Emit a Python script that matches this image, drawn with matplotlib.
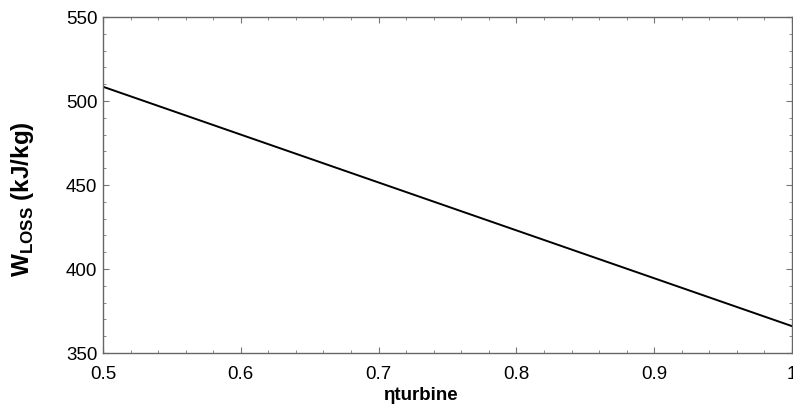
import matplotlib
matplotlib.use("Agg")
import matplotlib.pyplot as plt
from matplotlib.ticker import MultipleLocator, FixedLocator

plt.rcParams['font.family'] = ['Liberation Sans', 'DejaVu Sans']
plt.rcParams['mathtext.fontset'] = 'custom'
plt.rcParams['mathtext.bf'] = 'Liberation Sans:bold'
plt.rcParams['mathtext.rm'] = 'Liberation Sans'

# turbine efficiency vs. lost work
eta_turbine = [0.5, 0.6, 0.7, 0.8, 0.9, 1.0]
w_loss = [508.5, 480.0, 451.5, 423.0, 394.5, 366.0]

x_ticks = [0.5, 0.6, 0.7, 0.8, 0.9, 1.0]
x_tick_labels = ['0.5', '0.6', '0.7', '0.8', '0.9', '1']
y_ticks = [350, 400, 450, 500, 550]

fig = plt.figure(figsize=(7.93, 4.08), dpi=100)
ax = fig.add_axes([0.1299, 0.1348, 0.8688, 0.8235])

ax.plot(eta_turbine, w_loss, color='black', linewidth=1.4)

ax.set_xlim(0.5, 1.0)
ax.set_ylim(350, 550)
ax.xaxis.set_major_locator(FixedLocator(x_ticks))
ax.set_xticklabels(x_tick_labels)
ax.xaxis.set_minor_locator(MultipleLocator(0.02))
ax.yaxis.set_major_locator(FixedLocator(y_ticks))
ax.yaxis.set_minor_locator(MultipleLocator(10))

for s in ax.spines.values():
    s.set_color('#666666')
    s.set_linewidth(1.0)

ax.tick_params(which='both', direction='in', top=True, right=True,
               color='#777777', labelsize=13.5, labelcolor='black')
ax.tick_params(which='major', length=4, width=0.8)
ax.tick_params(which='minor', length=2, width=0.6)
ax.tick_params(axis='x', which='major', pad=9)
ax.tick_params(axis='y', which='major', pad=4)

fig.text(23 / 793, 1 - 199 / 408, r'W$_{\mathbf{LOSS}}$ (kJ/kg)', rotation=90,
         ha='center', va='center', fontsize=17.5, fontweight='bold')
fig.text(420 / 793, 1 - 395 / 408, 'ηturbine', ha='center', va='center',
         fontsize=13.5, fontweight='bold')

fig.savefig('out.png', dpi=100)
